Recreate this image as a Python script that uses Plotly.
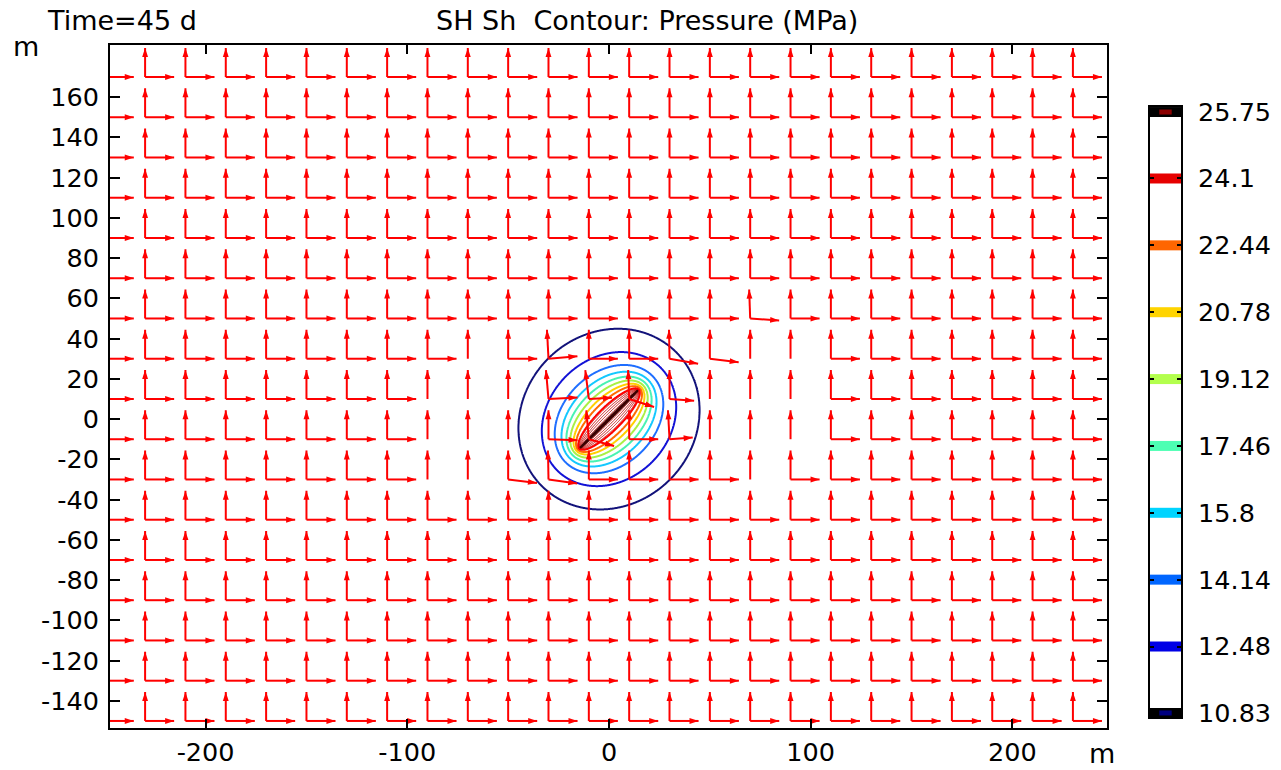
import numpy as np
import plotly.graph_objects as go

# ---------------- data ----------------
contour_levels = [10.83, 12.48, 14.14, 15.8, 17.46, 19.12, 20.78, 22.44, 24.1, 25.75]
colorbar_labels = ["10.83", "12.48", "14.14", "15.8", "17.46", "19.12", "20.78", "22.44", "24.1", "25.75"]
# elliptic radius (around the fracture) at which each contour level lies
contour_mu = [1.50, 1.20, 0.98, 0.84, 0.72, 0.61, 0.50, 0.40, 0.29, 0.018]
# pressure at the fracture itself and far from it
field_edge_mu = [0.0, 3.0]
field_edge_p = [26.0, 7.0]
hatch_levels = [24.3, 24.6, 24.9, 25.2, 25.5]

fracture_center = [0.0, 0.0]
fracture_half_length = 20.0
fracture_angle_deg = 45.0

line_colors = ["#12127a", "#1212d6", "#1e6eff", "#14c8ff", "#48f2b2",
               "#a8f044", "#ffd000", "#ff6a00", "#ff0000", "#3a0000"]
bar_colors = ["#000000", "#0000e6", "#0066ff", "#00d4ff", "#4dffb3",
              "#b3ff4d", "#ffd400", "#ff6600", "#e60000", "#000000"]

# principal-direction arrow grid (corner points, m)
arrow_cols = list(range(-250, 231, 20))
arrow_rows = list(range(170, -151, -20))
arrow_length = 14.4
# points where only the vertical arrow is drawn
vertical_only = [(-90, 10), (-70, 10), (-50, 10), (-90, -10), (-70, -10), (-50, -10),
                 (-90, -30), (-70, -30), (-70, 30),
                 (90, -10), (70, -10), (50, -10), (90, 10), (70, 10), (50, 10),
                 (90, 30), (70, 30), (70, -30)]
# (x, y, angle of "horizontal" arrow, angle of "vertical" arrow, length factor of horizontal)
tilted = [(30, 30, -10, 91, 1.0), (-30, -30, -8, 91, 1.0),
          (50, 30, -7, 90, 1.0), (-50, -30, -7, 90, 1.0),
          (-30, 10, 3, 95, 1.0), (30, -10, 4, 93, 0.8),
          (30, 10, -4, 90, 0.85), (-30, -10, -2, 90, 1.0),
          (-30, 30, 5, 93, 1.0), (10, 10, -18, 92, 0.9), (-10, -10, -15, 95, 0.9),
          (-10, 10, 3, 97, 0.8), (70, 50, -4, 92, 1.0)]

x_tick_vals = [-200, -100, 0, 100, 200]
x_tick_text = ["-200", "-100", "0", "100", "200"]
y_tick_vals = list(range(-140, 161, 20))
y_tick_text = [str(v) for v in y_tick_vals]

W, H = 1281, 770
FONT = "DejaVu Sans"

def px(x):
    return x / W

def py(y):
    return 1 - y / H

# ---------------- pressure field ----------------
gx = np.arange(-54, 54.001, 0.2)
gy = np.arange(-54, 54.001, 0.2)
X, Y = np.meshgrid(gx, gy)
th = np.deg2rad(fracture_angle_deg)
U = (X - fracture_center[0]) * np.cos(th) + (Y - fracture_center[1]) * np.sin(th)
V = -(X - fracture_center[0]) * np.sin(th) + (Y - fracture_center[1]) * np.cos(th)
c = fracture_half_length
r1 = np.hypot(U - c, V)
r2 = np.hypot(U + c, V)
MU = np.arccosh(np.maximum((r1 + r2) / (2 * c), 1.0))
mu_k = [field_edge_mu[0]] + contour_mu[::-1] + [field_edge_mu[1]]
p_k = [field_edge_p[0]] + contour_levels[::-1] + [field_edge_p[1]]
Z = np.interp(MU, mu_k, p_k).astype(np.float32)

zmin, zmax = contour_levels[0], contour_levels[-1]
cscale = [[(lv - zmin) / (zmax - zmin), col] for lv, col in zip(contour_levels, line_colors)]
cscale[0][0] = 0.0
cscale[-1][0] = 1.0

fig = go.Figure()

fig.add_trace(go.Contour(
    x=gx, y=gy, z=Z, zmin=zmin, zmax=zmax,
    contours=dict(start=hatch_levels[0], end=hatch_levels[-1] + 0.01,
                  size=hatch_levels[1] - hatch_levels[0], coloring="lines"),
    colorscale=[[0, "#c00000"], [1, "#c00000"]], line=dict(width=1),
    showscale=False, hoverinfo="skip"))

fig.add_trace(go.Contour(
    x=gx, y=gy, z=Z, zmin=zmin, zmax=zmax,
    contours=dict(start=zmin, end=zmax + 0.01, size=(zmax - zmin) / 9, coloring="lines"),
    colorscale=cscale, line=dict(width=2),
    showscale=False, hoverinfo="skip"))

# ---------------- arrows ----------------
vo = set(vertical_only)
tl = {(t[0], t[1]): t[2:] for t in tilted}
sx, sy, hx, hy, ha = [], [], [], [], []
for yv in arrow_rows:
    for xv in arrow_cols:
        a_h, a_v, f_h = tl.get((xv, yv), (0.0, 90.0, 1.0))
        dirs = [(a_v, 1.0)]
        if (xv, yv) not in vo:
            dirs.append((a_h, f_h))
        for ang, f in dirs:
            L = arrow_length * f
            tx = xv + L * np.cos(np.deg2rad(ang))
            ty = yv + L * np.sin(np.deg2rad(ang))
            sx += [xv, tx, None]
            sy += [yv, ty, None]
            hx.append(tx)
            hy.append(ty)
            ha.append(90 - ang)

fig.add_trace(go.Scatter(x=sx, y=sy, mode="lines", line=dict(color="#ff0000", width=2),
                         hoverinfo="skip", showlegend=False))
fig.add_trace(go.Scatter(x=hx, y=hy, mode="markers",
                         marker=dict(symbol="arrow", size=9.5, angle=ha, color="#ff0000",
                                     line=dict(width=0)),
                         hoverinfo="skip", showlegend=False))

# ---------------- colour legend (own axes) ----------------
for lv, col in zip(contour_levels, bar_colors):
    fig.add_trace(go.Scatter(x=[0, 1], y=[lv, lv], mode="lines", line=dict(color=col, width=10),
                             xaxis="x2", yaxis="y2", hoverinfo="skip", showlegend=False))
fig.add_trace(go.Scatter(x=[0.3, 0.7], y=[contour_levels[-1], contour_levels[-1]], mode="lines",
                         line=dict(color="#8b0000", width=5), xaxis="x2", yaxis="y2",
                         hoverinfo="skip", showlegend=False))
fig.add_trace(go.Scatter(x=[0.3, 0.7], y=[contour_levels[0], contour_levels[0]], mode="lines",
                         line=dict(color="#000080", width=5), xaxis="x2", yaxis="y2",
                         hoverinfo="skip", showlegend=False))

axis_font = dict(family=FONT, size=25.5, color="black")
fig.update_layout(
    width=W, height=H, margin=dict(l=0, r=0, t=0, b=0, autoexpand=False),
    paper_bgcolor="white", plot_bgcolor="white", showlegend=False,
    font=dict(family=FONT, color="black"),
    xaxis=dict(domain=[px(110), px(1107)], range=[-247.4, 246.9],
               tickvals=x_tick_vals, ticktext=x_tick_text, tickfont=axis_font,
               ticks="inside", ticklen=9, tickwidth=1.5, tickcolor="black",
               showline=True, linewidth=2, linecolor="black", mirror="ticks",
               showgrid=False, zeroline=False, anchor="y", automargin=False),
    yaxis=dict(domain=[py(728), py(45)], range=[-153.5, 185.9],
               tickvals=y_tick_vals, ticktext=y_tick_text, tickfont=axis_font,
               ticks="inside", ticklen=10, tickwidth=1.5, tickcolor="black",
               showline=True, linewidth=2, linecolor="black", mirror="ticks",
               showgrid=False, zeroline=False, anchor="x", ticklabelstandoff=4,
               automargin=False),
    xaxis2=dict(domain=[px(1150), px(1181)], range=[0, 1], showticklabels=False,
                ticks="", showline=True, linewidth=2, linecolor="black", mirror=True,
                showgrid=False, zeroline=False, anchor="y2", fixedrange=True,
                automargin=False),
    yaxis2=dict(domain=[py(717), py(107)], range=[10.73, 25.875], side="right",
                tickvals=contour_levels, ticktext=colorbar_labels, tickfont=axis_font,
                ticks="inside", ticklen=4, tickwidth=2, tickcolor="black",
                showline=True, linewidth=2, linecolor="black", mirror="ticks",
                showgrid=False, zeroline=False, anchor="x2", ticklabelstandoff=10,
                automargin=False),
)

ann = [
    dict(text="Time=45 d", x=px(45), y=py(21), xanchor="left"),
    dict(text="SH Sh\u00a0\u00a0Contour: Pressure (MPa)", x=px(647), y=py(21), xanchor="center"),
    dict(text="m", x=px(26), y=py(47), xanchor="center"),
    dict(text="m", x=px(1102), y=py(753), xanchor="center"),
]
for a in ann:
    fig.add_annotation(xref="paper", yref="paper", showarrow=False, yanchor="middle",
                       font=dict(family=FONT, size=27, color="black"), **a)

fig.write_html("out.html", config={"displayModeBar": False},
               post_script="document.body.style.margin='0';document.body.style.overflow='hidden';")
